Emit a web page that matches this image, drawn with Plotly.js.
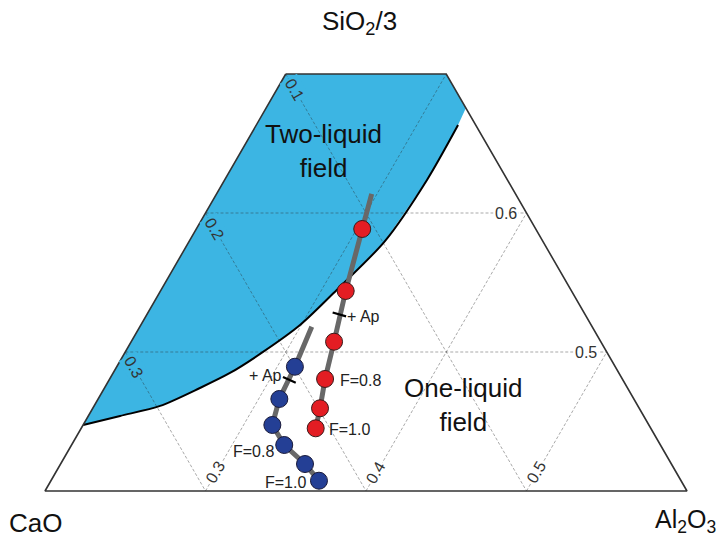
<!DOCTYPE html>
<html><head><meta charset="utf-8">
<script src="https://cdn.plot.ly/plotly-3.0.1.min.js"></script>
<style>html,body{margin:0;padding:0;background:#fff}</style>
</head><body><div id="chart" style="width:723px;height:539px"></div>
<script>
// Ternary components (fractions): SiO2/3 (apex), CaO (bottom-left), Al2O3 (bottom-right)
// Displayed window
const sio2Min = 0.4, sio2Max = 0.7, al2o3Min = 0.2, caoMin = 0.0;

// Grid / tick values
const sio2Ticks = [0.5, 0.6];
const caoTicks = [0.1, 0.2, 0.3];
const al2o3Ticks = [0.3, 0.4, 0.5];

// Red series (melt evolution)
const redSiO2  = [0.5885, 0.5439, 0.5074, 0.4806, 0.4595, 0.4451];
const redCaO   = [0.1081, 0.1407, 0.1662, 0.1852, 0.1989, 0.2088];
const redAl2O3 = [0.3034, 0.3154, 0.3264, 0.3342, 0.3416, 0.3461];
const redLineStart = [0.6137, 0.0896, 0.2967]; // SiO2, CaO, Al2O3

// Blue series
const blueSiO2  = [0.4894, 0.4662, 0.4475, 0.4331, 0.4194, 0.4074];
const blueCaO   = [0.1996, 0.2209, 0.2346, 0.2344, 0.2283, 0.2256];
const blueAl2O3 = [0.3110, 0.3129, 0.3179, 0.3325, 0.3523, 0.3670];
const blueLineStart = [0.5182, 0.1747, 0.3071];

// Apatite-in marks (red, blue)
const apSiO2  = [0.5270, 0.4799];
const apCaO   = [0.1531, 0.2078];
const apAl2O3 = [0.3199, 0.3123];

// Two-liquid boundary (solvus)
const solSiO2  = [0.4475, 0.4540, 0.4612, 0.4741, 0.4849, 0.4986, 0.5194, 0.5470, 0.5798, 0.6238, 0.6633];
const solCaO   = [0.3525, 0.3262, 0.2977, 0.2664, 0.2423, 0.2167, 0.1814, 0.1427, 0.0983, 0.0501, 0.0110];
const solAl2O3 = [0.2000, 0.2198, 0.2411, 0.2595, 0.2728, 0.2847, 0.2992, 0.3103, 0.3219, 0.3261, 0.3257];
// two-liquid field cap: top-left corner, top-right corner, point on SiO2-Al2O3 side
const capSiO2  = [0.7, 0.7, 0.6755];
const capCaO   = [0.1, 0.0, 0.0];
const capAl2O3 = [0.2, 0.3, 0.3245];

const H = Math.sqrt(3) / 2;
function proj(s, c, a) { const t = s + c + a; s /= t; a /= t; return [a + s / 2, s * H]; }
function xy(S, C, A) {
  const x = [], y = [];
  S.forEach((s, i) => { if (s === null) { x.push(null); y.push(null); } else { const p = proj(s, C[i], A[i]); x.push(p[0]); y.push(p[1]); } });
  return {x, y};
}

// Field polygon
const fS = capSiO2.concat(solSiO2.slice().reverse());
const fC = capCaO.concat(solCaO.slice().reverse());
const fA = capAl2O3.concat(solAl2O3.slice().reverse());
const field = xy(fS, fC, fA);

// Grid segments
const gS = [], gC = [], gA = [];
sio2Ticks.forEach(s => { gS.push(s, s, null); gC.push(1 - s - al2o3Min, 0, null); gA.push(al2o3Min, 1 - s, null); });
caoTicks.forEach(c => {
  let s0 = Math.min(1 - c - al2o3Min, sio2Max);
  gS.push(s0, sio2Min, null); gC.push(c, c, null); gA.push(1 - s0 - c, 1 - sio2Min - c, null);
});
al2o3Ticks.forEach(a => {
  let s1 = Math.min(1 - a, sio2Max);
  gS.push(sio2Min, s1, null); gC.push(1 - sio2Min - a, 1 - s1 - a, null); gA.push(a, a, null);
});
const grid = xy(gS, gC, gA);

// Outline
const oS = [sio2Max, sio2Max, sio2Min, sio2Min, sio2Max];
const oA = [al2o3Min, 1 - sio2Max, 1 - sio2Min, al2o3Min, al2o3Min];
const oC = oS.map((s, i) => 1 - s - oA[i]);
const outline = xy(oS, oC, oA);

const sol = xy(solSiO2, solCaO, solAl2O3);
const redPath = xy([redLineStart[0]].concat(redSiO2), [redLineStart[1]].concat(redCaO), [redLineStart[2]].concat(redAl2O3));
const bluePath = xy([blueLineStart[0]].concat(blueSiO2), [blueLineStart[1]].concat(blueCaO), [blueLineStart[2]].concat(blueAl2O3));
const red = xy(redSiO2, redCaO, redAl2O3);
const blue = xy(blueSiO2, blueCaO, blueAl2O3);
const ap = xy(apSiO2, apCaO, apAl2O3);

const FONT = 'Liberation Sans, Arial, Helvetica, sans-serif';
const BLUE_FILL = '#3cb5e3';

const traces = [
  {x: field.x, y: field.y, mode: 'lines', fill: 'toself', fillcolor: BLUE_FILL, line: {width: 0}, hoverinfo: 'skip'},
  {x: grid.x, y: grid.y, mode: 'lines', line: {color: 'rgba(40,40,40,0.4)', width: 1, dash: '3px,2px'}, hoverinfo: 'skip'},
  {x: sol.x, y: sol.y, mode: 'lines', line: {color: '#000', width: 2, shape: 'spline', smoothing: 0.8}, hoverinfo: 'skip'},
  {x: outline.x, y: outline.y, mode: 'lines', line: {color: '#333', width: 1.6}, hoverinfo: 'skip'},
  {x: redPath.x, y: redPath.y, mode: 'lines', line: {color: '#686868', width: 5}, hoverinfo: 'skip'},
  {x: bluePath.x, y: bluePath.y, mode: 'lines', line: {color: '#686868', width: 5}, hoverinfo: 'skip'},
  {x: ap.x, y: ap.y, mode: 'markers', marker: {symbol: 'line-ew', size: 10, angle: [16, 24], line: {color: '#000', width: 2.2}}, hoverinfo: 'skip'},
  {x: red.x, y: red.y, mode: 'markers', marker: {size: 17, color: '#e31d23', line: {color: '#3a1a1a', width: 1}}},
  {x: blue.x, y: blue.y, mode: 'markers', marker: {size: 17, color: '#243f95', line: {color: '#1a1a3a', width: 1}}}
];

function pt(s, c, a) { const p = proj(s, c, a); return {x: p[0], y: p[1]}; }
const ann = [];
const tickFont = {family: FONT, size: 16, color: '#333'};
sio2Ticks.forEach(s => ann.push(Object.assign(pt(s, 0, 1 - s), {text: s.toFixed(1), showarrow: false, xanchor: 'center', xshift: -21, font: tickFont, bgcolor: '#fff'})));
caoTicks.forEach(c => { const s0 = Math.min(1 - c - al2o3Min, sio2Max);
  ann.push(Object.assign(pt(s0, c, 1 - s0 - c), {text: c.toFixed(1), showarrow: false, xanchor: 'center', textangle: 60, xshift: 9, yshift: -15, font: tickFont, bgcolor: BLUE_FILL})); });
al2o3Ticks.forEach(a => ann.push(Object.assign(pt(sio2Min, 1 - sio2Min - a, a), {text: a.toFixed(1), showarrow: false, xanchor: 'center', textangle: -60, xshift: 10, yshift: 18, font: tickFont, bgcolor: '#fff'})));

const lblFont = {family: FONT, size: 16, color: '#222'};
ann.push(Object.assign(pt(redSiO2[3], redCaO[3], redAl2O3[3]), {text: 'F=0.8', showarrow: false, xanchor: 'left', xshift: 13, yshift: -2, font: lblFont}));
ann.push(Object.assign(pt(redSiO2[5], redCaO[5], redAl2O3[5]), {text: 'F=1.0', showarrow: false, xanchor: 'left', xshift: 11, yshift: -1, font: lblFont}));
ann.push(Object.assign(pt(blueSiO2[3], blueCaO[3], blueAl2O3[3]), {text: 'F=0.8', showarrow: false, xanchor: 'right', xshift: -8, yshift: -7, font: lblFont}));
ann.push(Object.assign(pt(blueSiO2[5], blueCaO[5], blueAl2O3[5]), {text: 'F=1.0', showarrow: false, xanchor: 'right', xshift: -11, yshift: -2, font: lblFont}));
ann.push(Object.assign(pt(apSiO2[0], apCaO[0], apAl2O3[0]), {text: '+ Ap', showarrow: false, xanchor: 'left', xshift: 6, yshift: -2, font: lblFont}));
ann.push(Object.assign(pt(apSiO2[1], apCaO[1], apAl2O3[1]), {text: '+ Ap', showarrow: false, xanchor: 'right', xshift: -5, yshift: 4, font: lblFont}));

const fieldFont = {family: FONT, size: 26, color: '#111'};
ann.push(Object.assign(pt(0.6446, 0.1039, 0.2515), {text: 'Two-liquid<br>field', showarrow: false, xanchor: 'center', font: fieldFont}));
ann.push(Object.assign(pt(0.4619, 0.1086, 0.4295), {text: 'One-liquid<br>field', showarrow: false, xanchor: 'center', font: fieldFont}));

const titleFont = {family: FONT, size: 26, color: '#111'};
ann.push({xref: 'paper', yref: 'paper', x: 359 / 723, y: 1 - 22 / 539, xanchor: 'center', yanchor: 'middle', text: 'SiO<sub>2</sub>/3', showarrow: false, font: titleFont});
ann.push({xref: 'paper', yref: 'paper', x: 35 / 723, y: 1 - 523 / 539, xanchor: 'center', yanchor: 'middle', text: 'CaO', showarrow: false, font: titleFont});
ann.push({xref: 'paper', yref: 'paper', x: 718 / 723, y: 1 - 521 / 539, xanchor: 'right', yanchor: 'middle', text: 'Al<sub>2</sub>O<sub>3</sub>', showarrow: false, font: {family: FONT, size: 25, color: '#111'}});

const layout = {
  width: 723, height: 539,
  margin: {l: 0, r: 0, t: 0, b: 0, pad: 0},
  paper_bgcolor: '#fff', plot_bgcolor: '#fff',
  showlegend: false,
  xaxis: {range: [0.37196, 0.82243], visible: false, fixedrange: true},
  yaxis: {range: [0.31650, 0.65233], visible: false, fixedrange: true},
  annotations: ann,
  font: {family: FONT}
};
Plotly.newPlot('chart', traces, layout, {displayModeBar: false, staticPlot: true});
</script></body></html>
